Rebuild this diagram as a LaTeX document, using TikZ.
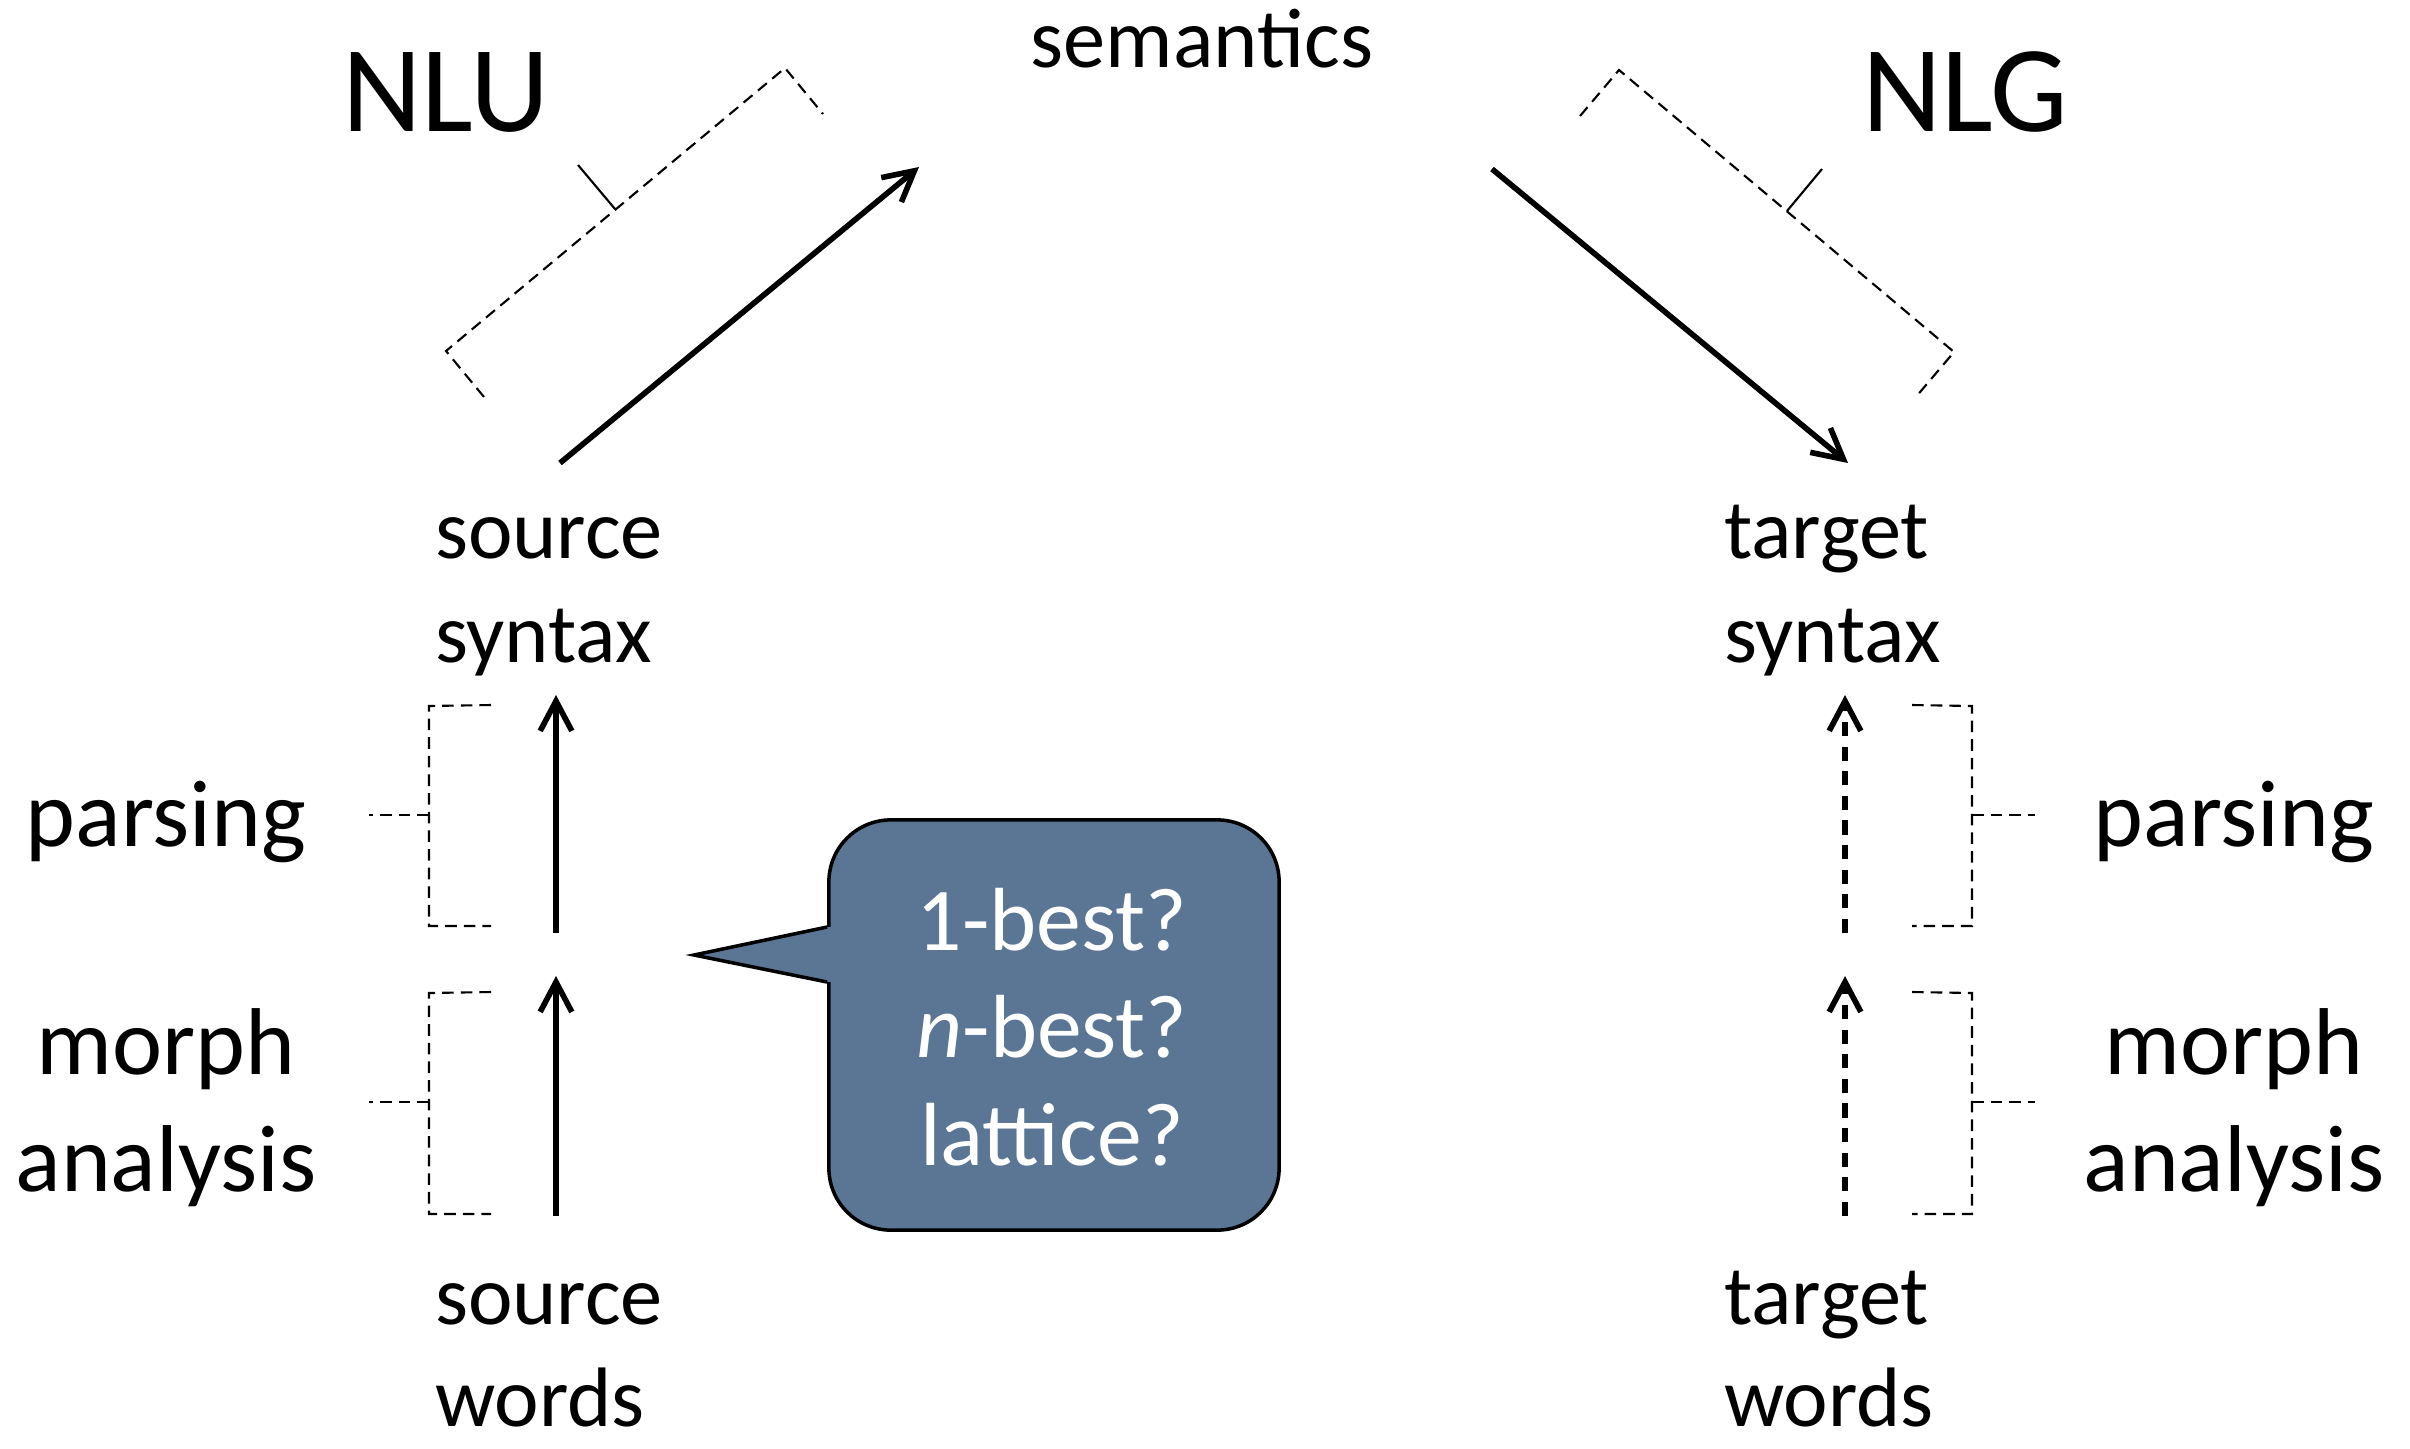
\documentclass[tikz,border=0pt]{standalone}
\usepackage{fontspec}
\setmainfont{Carlito}
\usetikzlibrary{arrows.meta}
\definecolor{bubblefill}{RGB}{91,117,148}
\begin{document}
\begin{tikzpicture}[x=0.01cm,y=-0.01cm,
  lbl/.style={inner sep=0pt,outer sep=0pt},
  midfont/.style={font=\fontsize{24}{29.6}\selectfont},
  wordsfont/.style={font=\fontsize{24}{29}\selectfont},
  stagefont/.style={font=\fontsize{27}{33.3}\selectfont},
  bigfont/.style={font=\fontsize{35}{40}\selectfont},
  arr/.style={line width=1.6pt,-{Straight Barb[length=8.5pt,width=9pt]}},
  dasharr/.style={arr,dash pattern=on 4pt off 3pt},
  brk/.style={line width=0.6pt,dash pattern=on 3.3pt off 2pt},
  bubblebox/.style={draw=black,line width=1pt,fill=bubblefill,rounded corners=0.62cm,
    minimum width=4.5cm,minimum height=4.1cm,inner sep=0pt},
]
\useasboundingbox (0,0) rectangle (2410,1448);

% titles
\node[lbl,bigfont,anchor=base] (nlu) at (446,131) {NLU};
\node[lbl,bigfont,anchor=base] (nlg) at (1965,131) {NLG};
\node[lbl,midfont,anchor=base] (sem) at (1202,67) {semantics};

% level labels
\node[lbl,midfont,anchor=base west] (srcsyn) at (435,558)
  {\begin{tabular}[t]{@{}l@{}}source\\syntax\end{tabular}};
\node[lbl,midfont,anchor=base west] (tgtsyn) at (1724,558)
  {\begin{tabular}[t]{@{}l@{}}target\\syntax\end{tabular}};
\node[lbl,wordsfont,anchor=base west] (srcw) at (435,1324)
  {\begin{tabular}[t]{@{}l@{}}source\\words\end{tabular}};
\node[lbl,wordsfont,anchor=base west] (tgtw) at (1724,1324)
  {\begin{tabular}[t]{@{}l@{}}target\\words\end{tabular}};

% stage labels
\node[lbl,stagefont,anchor=base] (parseL) at (166,846) {parsing};
\node[lbl,stagefont,anchor=base] (morphL) at (166,1074)
  {\begin{tabular}[t]{@{}c@{}}morph\\analysis\end{tabular}};
\node[lbl,stagefont,anchor=base] (parseR) at (2234,846) {parsing};
\node[lbl,stagefont,anchor=base] (morphR) at (2234,1074)
  {\begin{tabular}[t]{@{}c@{}}morph\\analysis\end{tabular}};

% arrow end points
\coordinate (ud0) at (560,463);  \coordinate (ud1) at (919,167);
\coordinate (gd0) at (1492,169); \coordinate (gd1) at (1848,463);
\coordinate (sl0) at (556,1216); \coordinate (sl1) at (556,976);
\coordinate (sl2) at (556,933);  \coordinate (sl3) at (556,695);
\coordinate (tl0) at (1845,1216); \coordinate (tl1) at (1845,976);
\coordinate (tl2) at (1845,933);  \coordinate (tl3) at (1845,695);

\draw[arr] (ud0) -- (ud1);
\draw[arr] (gd0) -- (gd1);
\draw[arr] (sl0) -- (sl1);
\draw[arr] (sl2) -- (sl3);
\draw[dasharr] (tl0) -- (tl1);
\draw[dasharr] (tl2) -- (tl3);

% brackets left
\draw[brk] (491,705) -- (429,706) -- (429,926) -- (491,926);
\draw[brk] (429,815) -- (369,815);
\draw[brk] (491,992) -- (429,993) -- (429,1214) -- (491,1214);
\draw[brk] (429,1102) -- (369,1102);
% brackets right
\draw[brk] (1912,705) -- (1972,706) -- (1972,926) -- (1912,926);
\draw[brk] (1972,815) -- (2035,815);
\draw[brk] (1912,992) -- (1972,993) -- (1972,1214) -- (1912,1214);
\draw[brk] (1972,1102) -- (2035,1102);

% NLU bracket
\draw[brk] (484,397) -- (446,351) -- (785,68) -- (823,114);
\draw[line width=0.6pt] (615,209) -- (578,165);
% NLG bracket
\draw[brk] (1580,116) -- (1619,70) -- (1954,352) -- (1915,398);
\draw[line width=0.6pt] (1787,211) -- (1822,169);

% speech bubble
\node[bubblebox] (bubble) at (1054,1025) {};
\coordinate (tip) at (694,955);
\fill[bubblefill] (tip) -- (829,927) -- (846,927) -- (846,982) -- (829,982) -- cycle;
\draw[line width=1pt,line join=miter] (bubble.west |- 0,927) -- (tip) -- (bubble.west |- 0,982);
\node[lbl,text=white,font=\fontsize{25.5}{30.7}\selectfont,anchor=base] (btext) at (1052,950)
  {\begin{tabular}[t]{@{}c@{}}1-best?\\\textit{n}-best?\\lattice?\end{tabular}};
\end{tikzpicture}
\end{document}
